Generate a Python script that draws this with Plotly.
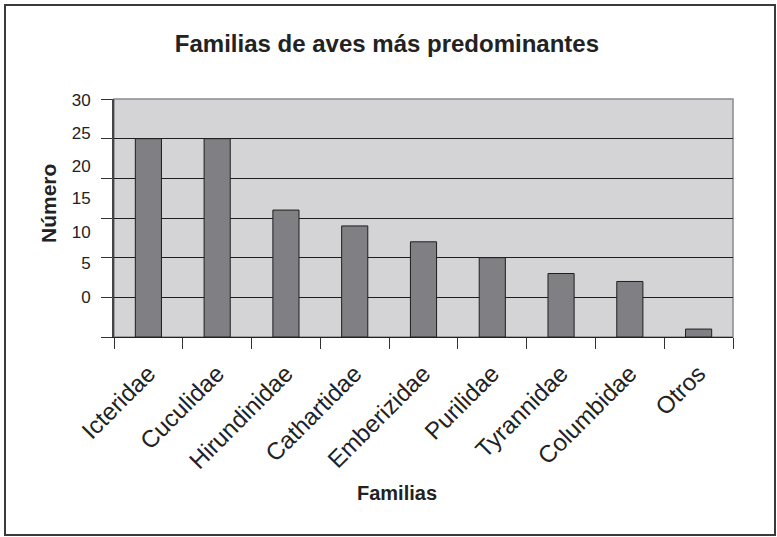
import plotly.graph_objects as go

# data
familias = ['Icteridae', 'Cuculidae', 'Hirundinidae', 'Cathartidae', 'Emberizidae',
            'Purilidae', 'Tyrannidae', 'Columbidae', 'Otros']
numero = [25, 25, 16, 14, 12, 10, 8, 7, 1]

# the printed y labels sit off their gridlines in the original figure
y_ticktext = ['30', '25', '20', '15', '10', '5', '0']
y_label_pos = [29.9, 25.7, 21.5, 17.5, 13.2, 9.3, 5.0]
y_grid = [0, 5, 10, 15, 20, 25, 30]

FONT = 'Liberation Sans, Arial, sans-serif'
INK = '#222222'

# plot area in pixels: x 114..733, y 99..337
W, H = 619, 238


def px(x):
    return (x - 114) / W


def py(y):
    return (337 - y) / H


fig = go.Figure()
fig.add_trace(go.Bar(
    x=familias, y=numero,
    marker=dict(color='#808084', line=dict(color='#1e1e1e', width=1)),
    showlegend=False, hoverinfo='x+y',
))
# invisible trace so the second axis (labels only) is drawn
fig.add_trace(go.Scatter(x=familias[:1], y=[0], yaxis='y2', mode='markers',
                         marker=dict(opacity=0), showlegend=False, hoverinfo='skip'))

fig.update_layout(
    width=777, height=537,
    margin=dict(l=114, r=44, t=99, b=200),
    paper_bgcolor='white', plot_bgcolor='#d4d4d6',
    bargap=0.62,
    font=dict(family=FONT, color=INK),
    title=dict(text='<b>Familias de aves más predominantes</b>', x=0.498, y=0.918,
               xanchor='center', yanchor='middle', font=dict(size=24, color=INK)),
    xaxis=dict(
        tickangle=-45, tickfont=dict(size=24, color=INK),
        ticks='outside', tickson='boundaries', ticklen=11, tickcolor='#333',
        ticklabelstandoff=12,
        showline=True, linecolor='#222', linewidth=1,
        showgrid=False, range=[-0.5, len(familias) - 0.5],
    ),
    yaxis=dict(
        range=[0, 30], tickvals=y_grid, showticklabels=False,
        ticks='outside', ticklen=11, tickcolor='#333',
        showgrid=True, gridcolor='#1e1e1e', gridwidth=1,
        showline=True, linecolor='#444', linewidth=1.5,
        zeroline=False, fixedrange=True,
    ),
    yaxis2=dict(
        overlaying='y', side='left', range=[0, 30],
        tickvals=y_label_pos, ticktext=y_ticktext,
        tickfont=dict(size=17, color=INK),
        ticks='outside', ticklen=19, tickcolor='rgba(0,0,0,0)',
        showgrid=False, zeroline=False, showline=False,
    ),
    annotations=[
        dict(text='<b>Familias</b>', xref='paper', yref='paper',
             x=px(397), y=py(493), xanchor='center', yanchor='middle',
             showarrow=False, font=dict(size=20, color=INK)),
        dict(text='<b>Número</b>', textangle=-90, xref='paper', yref='paper',
             x=px(48), y=py(204), xanchor='center', yanchor='middle',
             showarrow=False, font=dict(size=21, color=INK)),
    ],
    shapes=[
        # grey frame on top/right of the plot area
        dict(type='rect', xref='paper', yref='paper', x0=0, x1=1, y0=0, y1=1,
             line=dict(color='#8a8a8a', width=1.5), layer='below'),
        # border round the whole picture
        dict(type='rect', xref='paper', yref='paper',
             x0=px(5), x1=px(775), y0=py(535), y1=py(5),
             line=dict(color='#3a3a3a', width=2)),
    ],
)

fig.write_html('out.html', config={'displayModeBar': False},
               post_script="document.body.style.margin='0';")
